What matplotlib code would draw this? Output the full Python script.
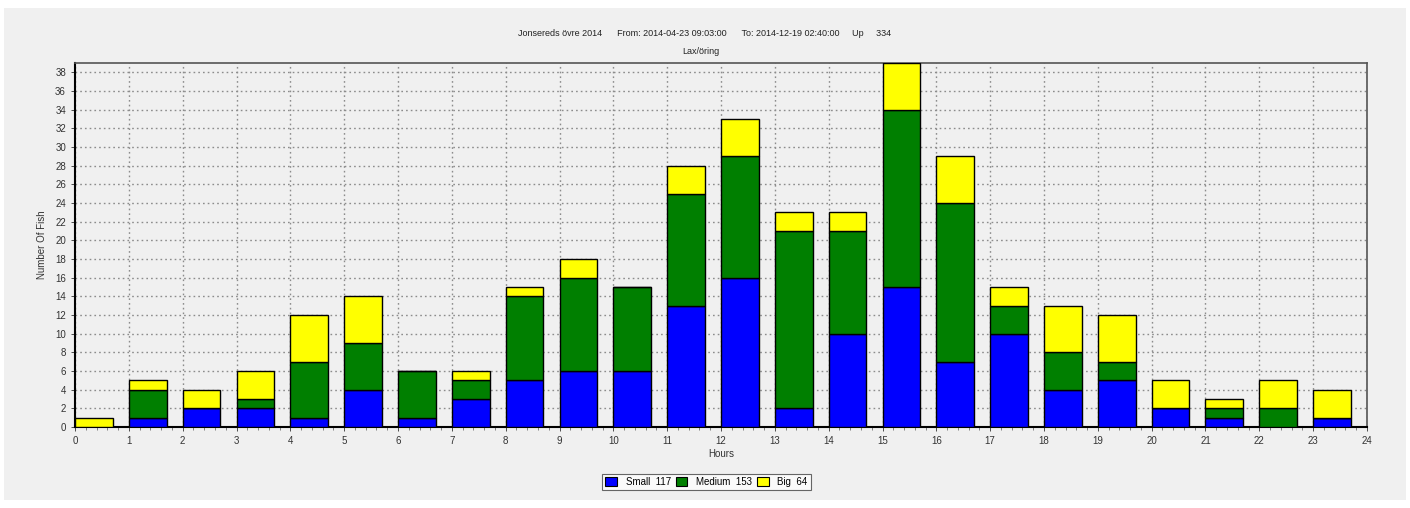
import numpy as np
from matplotlib import pyplot as plt
from matplotlib.ticker import MultipleLocator

plt.rcParams['font.family'] = ['Liberation Sans Narrow', 'Liberation Sans', 'DejaVu Sans']

hours = list(range(24))
small = [0, 1, 2, 2, 1, 4, 1, 3, 5, 6, 6, 13, 16, 2, 10, 15, 7, 10, 4, 5, 2, 1, 0, 1]
medium = [0, 3, 0, 1, 6, 5, 5, 2, 9, 10, 9, 12, 13, 19, 11, 19, 17, 3, 4, 2, 0, 1, 2, 0]
big = [1, 1, 2, 3, 5, 5, 0, 1, 1, 2, 0, 3, 4, 2, 2, 5, 5, 2, 5, 5, 3, 1, 3, 3]

title_line = ('Jonsereds övre 2014      From: 2014-04-23 09:03:00      '
              'To: 2014-12-19 02:40:00     Up     334')
subtitle = 'Lax/öring'

bg = '#f0f0f0'
fig = plt.figure(figsize=(14.1, 5.08), dpi=100, facecolor='white')
# gray panel behind everything
fig.patches.append(plt.Rectangle((0.003, 0.015), 0.994, 0.97, transform=fig.transFigure,
                                 facecolor=bg, edgecolor='none', zorder=-10))

ax = fig.add_axes([0.0532, 0.1594, 0.9163, 0.7166])
ax.set_facecolor(bg)

x = np.array(hours)
s = np.array(small)
m = np.array(medium)
b = np.array(big)
w = 0.7
kw = dict(width=w, align='edge', edgecolor='black', linewidth=1.0, zorder=3)
ax.bar(x, s, color='#0000ff', label='Small  %d' % s.sum(), **kw)
ax.bar(x, m, bottom=s, color='#007f00', label='Medium  %d' % m.sum(), **kw)
ax.bar(x, b, bottom=s + m, color='#ffff00', label='Big  %d' % b.sum(), **kw)

ax.set_xlim(0, 24)
ax.set_ylim(0, 39)
ax.set_xticks(range(0, 25))
ax.set_yticks(range(0, 39, 2))
ax.xaxis.set_minor_locator(MultipleLocator(0.2))
ax.tick_params(axis='both', labelsize=7, colors='#333333', length=3, width=0.6)
ax.tick_params(axis='x', which='minor', length=2, width=0.5, color='#555555')
ax.grid(True, color='#8c8c8c', linestyle=(0, (1.2, 2.2)), linewidth=1.0, zorder=0)

for side in ['left', 'bottom']:
    ax.spines[side].set_linewidth(1.5)
    ax.spines[side].set_color('black')
for side in ['top', 'right']:
    ax.spines[side].set_linewidth(1.2)
    ax.spines[side].set_color('#555555')

ax.set_xlabel('Hours', fontsize=7, color='#333333', labelpad=2)
ax.set_ylabel('Number Of Fish', fontsize=7, color='#333333', labelpad=6)

fig.text(0.5, 1 - 34 / 508, title_line, ha='center', va='center', fontsize=6.5, color='#222222')
fig.text(0.497, 1 - 51 / 508, subtitle, ha='center', va='center', fontsize=6.5, color='#222222')

leg = fig.legend(loc='center', bbox_to_anchor=(0.501, 1 - 482 / 508), ncol=3, fontsize=7,
                 frameon=True, fancybox=False, edgecolor='#666666', facecolor='#fafafa',
                 framealpha=1, handlelength=1.2, handleheight=1.0, handletextpad=0.9,
                 columnspacing=0.5, borderpad=0.3)
leg.get_frame().set_linewidth(0.8)
for h in leg.legend_handles:
    h.set_linewidth(0.8)

plt.savefig('out.png', dpi=100, facecolor='white')
